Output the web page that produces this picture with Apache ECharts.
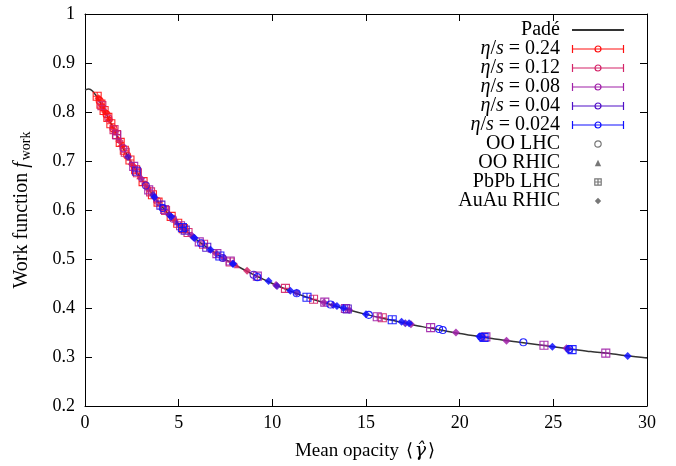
<!DOCTYPE html>
<html><head><meta charset="utf-8">
<script src="https://cdn.jsdelivr.net/npm/echarts@6/dist/echarts.min.js"></script>
<style>html,body{margin:0;padding:0;background:#fff}#c{width:676px;height:466px}</style>
</head><body><div id="c"></div><script>
// ---- data ----
const padeX = [0,0.2,0.4,0.6,0.8,1.0,1.25,1.5,1.75,2,2.25,2.5,2.75,3,3.25,3.5,3.75,4,4.5,5,5.5,6,6.5,7,7.5,8,8.5,9,9.5,10,11,12,13,14,15,16,17,18,19,20,21,22,23,24,25,26,27,28,29,30];
const padeY = [0.845,0.847,0.843,0.833,0.820,0.806,0.787,0.768,0.748,0.729,0.712,0.695,0.679,0.664,0.650,0.637,0.624,0.612,0.590,0.571,0.554,0.538,0.524,0.511,0.499,0.488,0.478,0.468,0.459,0.450,0.434,0.420,0.408,0.397,0.387,0.378,0.370,0.362,0.355,0.348,0.342,0.336,0.331,0.326,0.321,0.316,0.311,0.307,0.302,0.298];
// points: [mean opacity, f_work, system index]  systems: 0 OO LHC, 1 OO RHIC, 2 PbPb LHC, 3 AuAu RHIC
const eta024 = [[0.65,0.832,2],[0.72,0.828,3],[0.78,0.823,0],[0.85,0.816,2],[0.92,0.812,3],[0.98,0.807,1],[1.02,0.803,2],[1.08,0.800,3],[1.15,0.795,0],[1.22,0.789,2],[1.3,0.784,3],[1.38,0.776,2],[1.45,0.771,1],[1.52,0.766,0],[1.6,0.760,3],[1.68,0.754,2],[1.78,0.746,1],[1.88,0.738,2],[1.98,0.731,3],[2.1,0.722,2],[2.25,0.711,0],[2.4,0.702,2],[2.55,0.691,3],[2.7,0.682,2],[2.9,0.669,1],[3.1,0.658,2],[3.35,0.645,3],[3.6,0.631,2],[3.9,0.616,2],[4.2,0.603,0],[4.6,0.587,2],[4.95,0.573,2],[5.25,0.562,2]];
const eta012 = [[0.9,0.813,2],[1.25,0.787,0],[1.55,0.764,2],[1.85,0.741,3],[2.15,0.718,2],[2.45,0.698,1],[2.8,0.676,2],[3.2,0.653,3],[3.5,0.637,2],[3.85,0.619,0],[4.3,0.599,2],[4.75,0.580,3],[5.5,0.554,2],[6.33,0.530,2],[7.0,0.511,3],[7.75,0.494,2],[8.1,0.487,1],[8.65,0.476,3],[10.7,0.440,2],[12.2,0.418,2],[15.87,0.380,2]];
const eta008 = [[1.7,0.753,2],[2.05,0.726,0],[2.6,0.689,2],[3.0,0.664,3],[3.4,0.641,2],[3.8,0.622,1],[4.25,0.601,2],[4.7,0.582,0],[5.1,0.568,2],[5.7,0.548,3],[6.1,0.535,2],[6.7,0.519,1],[7.04,0.511,2],[7.4,0.502,3],[7.75,0.496,2],[9.2,0.465,2],[10.2,0.447,3],[12.75,0.411,3],[12.8,0.412,2],[13.9,0.399,2],[14.1,0.396,3],[15.6,0.382,2],[17.4,0.367,3],[18.45,0.360,2],[19.8,0.350,3],[21.4,0.341,2],[22.5,0.333,3],[24.5,0.324,2],[25.7,0.318,3],[27.8,0.308,2]];
const eta004 = [[2.3,0.708,3],[2.75,0.679,2],[3.25,0.650,0],[3.65,0.630,3],[4.05,0.610,2],[4.5,0.590,3],[4.9,0.575,1],[5.35,0.559,2],[5.8,0.544,3],[6.5,0.524,2],[7.35,0.502,0],[7.9,0.491,3],[9.0,0.468,0],[10.25,0.445,3],[11.3,0.431,3],[13.25,0.406,3],[14.0,0.398,2],[17.1,0.369,3],[21.2,0.342,3],[25.8,0.317,3]];
const eta0024 = [[3.7,0.626,3],[4.15,0.604,0],[4.6,0.586,3],[5.2,0.564,2],[5.85,0.543,3],[6.2,0.532,0],[6.7,0.519,3],[7.2,0.506,2],[7.9,0.490,3],[9.2,0.463,0],[9.8,0.455,3],[10.96,0.435,3],[11.3,0.430,0],[11.85,0.422,2],[13.1,0.407,0],[13.45,0.404,3],[13.8,0.400,3],[15.0,0.387,3],[15.15,0.386,0],[16.4,0.376,2],[16.9,0.372,3],[17.3,0.369,3],[18.9,0.357,0],[19.1,0.355,0],[21.05,0.342,3],[21.15,0.341,0],[21.3,0.340,2],[23.4,0.330,0],[24.95,0.321,3],[25.85,0.316,0],[26.0,0.315,2],[28.97,0.302,3]];
const etaLabels = ['0.24','0.12','0.08','0.04','0.024'];
const systemNames = ['OO LHC','OO RHIC','PbPb LHC','AuAu RHIC'];
const xTicks = [0,5,10,15,20,25,30];
const yTicks = [0.2,0.3,0.4,0.5,0.6,0.7,0.8,0.9,1];

// ---- styling ----
const F = '"Liberation Serif", "DejaVu Serif", serif';
const etaColors = ['#ff1010','#d42468','#a020a8','#5010c8','#1010ff'];
const etaSets = [eta024, eta012, eta008, eta004, eta0024];
const SQ = 'path://M0,0L10,0L10,10L0,10Z M5,0L5,10 M0,5L10,5';
const ERRBAR = 'path://M0.5,0L0.5,8 M51.5,0L51.5,8 M0,4L52,4 M29,4A3,3 0 1,1 23,4A3,3 0 1,1 29,4Z';
const sysSymbol = ['circle','triangle',SQ,'diamond'];
const sysSize = [7,6,8,8];
const sysFilled = [false,true,false,true];

const series = [];
series.push({
  name:'Padé', type:'line', data: padeX.map((x,i)=>[x,padeY[i]]), smooth:0.3, showSymbol:false, symbol:'none',
  lineStyle:{color:'#333', width:1.5}, itemStyle:{color:'#333', opacity:0}, z:1, silent:true
});
etaSets.forEach((set, e) => {
  const c = etaColors[e];
  for (let s = 0; s < 4; s++) {
    const d = set.filter(p => p[2] === s).map(p => [p[0], p[1]]);
    if (!d.length) continue;
    series.push({
      name:'pts'+e+'_'+s, type:'scatter', data:d, symbol:sysSymbol[s], symbolSize:sysSize[s], z:3,
      itemStyle: sysFilled[s] ? {color:c, opacity:0.85} : {color:'rgba(0,0,0,0)', borderColor:c, borderWidth:1.1, opacity:0.9},
      silent:true
    });
  }
  series.push({
    name:'eta'+e, type:'line', data:[], symbol:'circle', symbolSize:6,
    lineStyle:{color:c, width:1.5}, itemStyle:{color:'#fff', borderColor:c, borderWidth:1.2}
  });
});
systemNames.forEach((n, s) => {
  series.push({
    name:n, type:'line', data:[], symbol:sysSymbol[s],
    lineStyle:{width:0, opacity:0},
    itemStyle: sysFilled[s] ? {color:'#777'} : {color:'rgba(0,0,0,0)', borderColor:'#777', borderWidth:1}
  });
});

const legendData = [{name:'Padé'}]
  .concat(etaLabels.map((l,i)=>({name:'eta'+i, icon:ERRBAR})))
  .concat(systemNames.map(n=>({name:n})));

const axisCommon = {
  type:'value', axisLine:{show:true, onZero:false, lineStyle:{color:'#000', width:1}},
  axisTick:{show:true, inside:true, length:7, lineStyle:{color:'#000', width:1}},
  splitLine:{show:false}
};
const rt = (extra) => Object.assign({fontFamily:F, fontSize:18, color:'#000'}, extra || {});

const chart = echarts.init(document.getElementById('c'), null, {renderer:'canvas'});
chart.setOption({
  animation:false,
  backgroundColor:'#fff',
  textStyle:{fontFamily:F},
  grid:{left:85, right:29, top:14, bottom:57, containLabel:false},
  legend:{
    orient:'vertical', right:51, top:20, align:'right', padding:0, itemGap:-1.0,
    itemWidth:52, itemHeight:8, selectedMode:false,
    itemStyle:{borderWidth:1.2},
    data: legendData,
    textStyle:rt({fontSize:20, lineHeight:18.8, padding:[0,7,0,0],
      rich:{r:rt({fontSize:20, lineHeight:18.8}), i:rt({fontSize:20, fontStyle:'italic', lineHeight:18.8})}}),
    formatter: n => {
      if (n.indexOf('eta') === 0) return '{i|η}{r|/}{i|s}{r| = ' + etaLabels[+n.slice(3)] + '}';
      return '{r|' + n + '}';
    }
  },
  xAxis:[
    Object.assign({}, axisCommon, {
      min:xTicks[0], max:xTicks[xTicks.length-1], interval:xTicks[1]-xTicks[0], position:'bottom',
      axisLabel:rt({margin:8, formatter: v => '{r|' + v + '}', rich:{r:rt()}}),
      name:'{r|Mean opacity }{b|⟨}{i|γ̂}{b|⟩}', nameLocation:'middle', nameGap:36,
      nameTextStyle:rt({fontSize:19, rich:{r:rt({fontSize:19}), b:rt({fontSize:18, fontFamily:'"DejaVu Sans"', fontWeight:300, padding:[0,2,0,2]}),
        i:rt({fontSize:19, fontStyle:'italic', fontFamily:'"DejaVu Serif"'})}})
    }),
    Object.assign({}, axisCommon, {
      min:xTicks[0], max:xTicks[xTicks.length-1], interval:xTicks[1]-xTicks[0], position:'top', axisLabel:{show:false}
    })
  ],
  yAxis:[
    Object.assign({}, axisCommon, {
      min:yTicks[0], max:yTicks[yTicks.length-1], interval:0.1, position:'left',
      axisLabel:rt({margin:10, formatter: v => '{r|' + String(Math.round(v*10)/10) + '}', rich:{r:rt()}}),
      name:'{r|Work function }{i|f}{sub|work}', nameLocation:'middle', nameGap:52,
      nameTextStyle:rt({fontSize:20, lineHeight:22,
        rich:{r:rt({fontSize:20, lineHeight:22}), i:rt({fontSize:20, fontStyle:'italic', lineHeight:22, padding:[0,2,0,0]}),
              sub:rt({fontSize:14, lineHeight:22, padding:[9,0,0,0]})}})
    }),
    Object.assign({}, axisCommon, {
      min:yTicks[0], max:yTicks[yTicks.length-1], interval:0.1, position:'right', axisLabel:{show:false}
    })
  ],
  series: series
});
</script></body></html>
